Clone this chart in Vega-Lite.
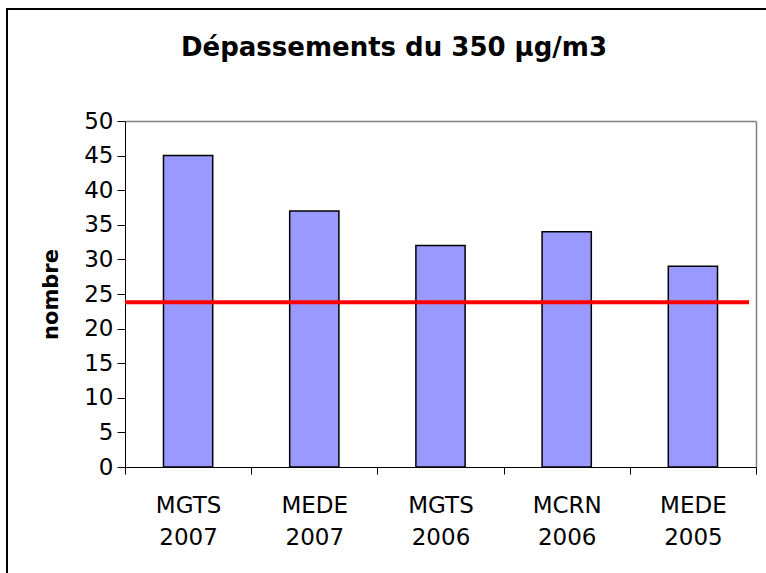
{
  "$schema": "https://vega.github.io/schema/vega-lite/v6.json",
  "width": 762,
  "height": 567,
  "autosize": {"type": "none"},
  "padding": {"left": 7, "top": 9, "right": -3, "bottom": -3},
  "background": "white",
  "config": {
    "view": {"stroke": "black", "strokeWidth": 2},
    "axis": {
      "labelFont": "DejaVu Sans",
      "titleFont": "DejaVu Sans",
      "labelColor": "black",
      "titleColor": "black",
      "domainColor": "black",
      "tickColor": "black"
    }
  },
  "title": {
    "text": "Dépassements du 350 µg/m3",
    "font": "DejaVu Sans",
    "fontSize": 26,
    "fontWeight": "bold",
    "color": "black",
    "anchor": "middle",
    "frame": "group",
    "baseline": "alphabetic",
    "offset": -73,
    "dx": 6
  },
  "datasets": {
    "bars": [
      {"station": "MGTS 2007", "nombre": 45},
      {"station": "MEDE 2007", "nombre": 37},
      {"station": "MGTS 2006", "nombre": 32},
      {"station": "MCRN 2006", "nombre": 34},
      {"station": "MEDE 2005", "nombre": 29}
    ],
    "seuil": [{"seuil": 23.8}]
  },
  "layer": [
    {
      "data": {"name": "bars"},
      "mark": {"type": "bar", "fill": "#9999FF", "stroke": "black", "strokeWidth": 1.5, "width": {"band": 0.39}},
      "encoding": {
        "x": {
          "field": "station",
          "type": "nominal",
          "sort": null,
          "scale": {"range": [118, 749], "paddingInner": 0, "paddingOuter": 0},
          "axis": {
            "orient": "bottom",
            "offset": -109,
            "title": null,
            "labelAngle": 0,
            "ticks": true,
            "tickBand": "extent",
            "tickSize": 7,
            "tickWidth": 1,
            "tickColor": "black",
            "labelPadding": 20,
            "labelFontSize": 23,
            "labelLineHeight": 32,
            "labelBaseline": "top",
            "labelExpr": "split(datum.label, ' ')",
            "grid": false
          }
        },
        "y": {
          "field": "nombre",
          "type": "quantitative",
          "scale": {"domain": [0, 50], "range": [458, 112], "nice": false},
          "axis": {
            "orient": "left",
            "offset": -118,
            "values": [0, 5, 10, 15, 20, 25, 30, 35, 40, 45, 50],
            "tickSize": 8,
            "labelPadding": 4,
            "labelFontSize": 23,
            "title": "nombre",
            "titleFontSize": 21,
            "titleFontWeight": "bold",
            "titlePadding": 22,
            "grid": false
          }
        }
      }
    },
    {
      "data": {"name": "seuil"},
      "mark": {"type": "rule", "color": "#FF0000", "strokeWidth": 4},
      "encoding": {
        "x": {
          "datum": 0,
          "type": "quantitative",
          "scale": {"domain": [0, 1], "range": [118, 749], "nice": false},
          "axis": {
            "orient": "top",
            "offset": -112,
            "title": null,
            "values": [1],
            "labels": false,
            "ticks": false,
            "domainColor": "#808080",
            "domainWidth": 1.5,
            "grid": true,
            "gridColor": "#808080",
            "gridWidth": 1.5,
            "gridOpacity": 1
          }
        },
        "x2": {"datum": 0.989},
        "y": {"field": "seuil", "type": "quantitative"}
      }
    }
  ],
  "resolve": {"scale": {"x": "independent"}}
}
